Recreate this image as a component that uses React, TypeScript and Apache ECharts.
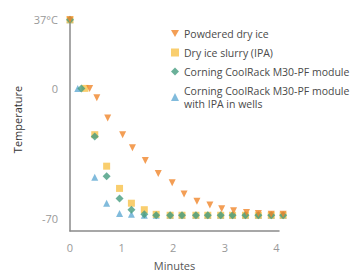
import React, { useEffect, useRef } from "react";
import * as echarts from "echarts";

const seriesNames = [
  "Powdered dry ice",
  "Dry ice slurry (IPA)",
  "Corning CoolRack M30-PF module",
  "Corning CoolRack M30-PF module\nwith IPA in wells",
];

const powderedTime = [0, 0.38, 0.52, 0.73, 1.02, 1.21, 1.46, 1.71, 1.98, 2.21, 2.46, 2.71, 2.94, 3.17, 3.42, 3.65, 3.9, 4.13];
const powderedTemp = [37, 0, -5, -16, -25, -32, -39, -46, -51, -57, -61, -63, -65, -66, -67, -67.5, -68, -68];

const slurryTime = [0, 0.29, 0.48, 0.71, 0.96, 1.19, 1.44, 1.67, 1.94, 2.17, 2.44, 2.67, 2.92, 3.15, 3.4, 3.65, 3.9, 4.13];
const slurryTemp = [37, 0, -25, -42, -54, -62, -65.5, -68, -68.5, -68.5, -68.5, -68.5, -68.5, -68.5, -68.5, -68.5, -68.5, -68.5];

const rackTime = [0, 0.22, 0.48, 0.71, 0.96, 1.19, 1.44, 1.67, 1.94, 2.17, 2.44, 2.67, 2.92, 3.15, 3.4, 3.65, 3.9, 4.13];
const rackTemp = [37, 0, -26, -47.5, -59.5, -65.5, -68, -68.5, -68.5, -68.5, -68.5, -68.5, -68.5, -68.5, -68.5, -68.5, -68.5, -68.5];

const rackIpaTime = [0, 0.15, 0.48, 0.71, 0.96, 1.19, 1.44, 1.67, 1.94, 2.17, 2.44, 2.67, 2.92, 3.15, 3.4, 3.65, 3.9, 4.13];
const rackIpaTemp = [37, 0, -48, -62, -67.5, -68, -68.5, -68.5, -68.5, -68.5, -68.5, -68.5, -68.5, -68.5, -68.5, -68.5, -68.5, -68.5];

const xTicks = [0, 1, 2, 3, 4];
const yTicks = [-70, 0, 37];

const colors = ["#F0862B", "#F7C24A", "#459C80", "#62AAD3"];

const downTriangle = "path://M0,0 L10,0 L5,9 Z";

const pair = (t: number[], v: number[]) => t.map((x, i) => [x, v[i]]);

export default function App() {
  const ref = useRef<HTMLDivElement>(null);
  useEffect(() => {
    if (!ref.current) return;
    const chart = echarts.init(ref.current, undefined, { renderer: "svg" });
    const font = "'Open Sans', sans-serif";
    chart.setOption({
      animation: false,
      textStyle: { fontFamily: font },
      grid: { left: 70, right: 85, top: 18, bottom: 36 },
      legend: {
        orient: "vertical",
        left: 171,
        top: 27,
        padding: 0,
        itemWidth: 8,
        itemHeight: 8,
        itemGap: 6,
        textStyle: { fontSize: 10.5, color: "#4a4a4a", fontFamily: font, lineHeight: 13 },
        data: [
          { name: seriesNames[0], icon: downTriangle },
          { name: seriesNames[1], icon: "rect" },
          { name: seriesNames[2], icon: "diamond" },
          { name: seriesNames[3], icon: "triangle" },
        ],
      },
      xAxis: {
        type: "value",
        min: 0,
        max: 4.05,
        name: "Minutes",
        nameLocation: "middle",
        nameGap: 29,
        nameTextStyle: { fontSize: 11, color: "#555", fontFamily: font },
        axisLine: { show: true, onZero: false, lineStyle: { color: "#8a8a8a", width: 1.5 } },
        axisTick: { show: false },
        splitLine: { show: false },
        axisLabel: {
          customValues: xTicks,
          color: "#999",
          fontSize: 11,
          margin: 11,
          fontFamily: font,
        },
      },
      yAxis: {
        type: "value",
        min: -77,
        max: 38,
        name: "Temperature",
        nameLocation: "middle",
        nameGap: 28,
        nameTextStyle: { fontSize: 11, color: "#333", fontFamily: font, padding: [0, 0, 0, 10] },
        axisLine: { show: true, onZero: false, lineStyle: { color: "#8a8a8a", width: 1.5 } },
        axisTick: { show: false },
        splitLine: { show: false },
        axisLabel: {
          customValues: yTicks,
          color: "#999",
          fontSize: 11,
          margin: 12,
          fontFamily: font,
          formatter: (v: number) => (v === 37 ? "37°C" : String(v)),
        },
      },
      series: [
        {
          name: seriesNames[0],
          type: "scatter",
          symbol: "triangle",
          symbolRotate: 180,
          symbolSize: 7,
          clip: false,
          z: 5,
          itemStyle: { color: colors[0] },
          data: pair(powderedTime, powderedTemp),
        },
        {
          name: seriesNames[1],
          type: "scatter",
          symbol: "rect",
          symbolSize: 7,
          clip: false,
          z: 3,
          itemStyle: { color: colors[1] },
          data: pair(slurryTime, slurryTemp),
        },
        {
          name: seriesNames[2],
          type: "scatter",
          symbol: "diamond",
          symbolSize: 8,
          clip: false,
          z: 4,
          itemStyle: { color: colors[2] },
          data: pair(rackTime, rackTemp),
        },
        {
          name: seriesNames[3],
          type: "scatter",
          symbol: "triangle",
          symbolSize: 7,
          clip: false,
          z: 2,
          itemStyle: { color: colors[3] },
          data: pair(rackIpaTime, rackIpaTemp),
        },
      ],
    });
    return () => chart.dispose();
  }, []);
  return (
    <div
      ref={ref}
      style={{ position: "fixed", left: 0, top: 0, width: 364, height: 276, background: "#fff" }}
    />
  );
}
